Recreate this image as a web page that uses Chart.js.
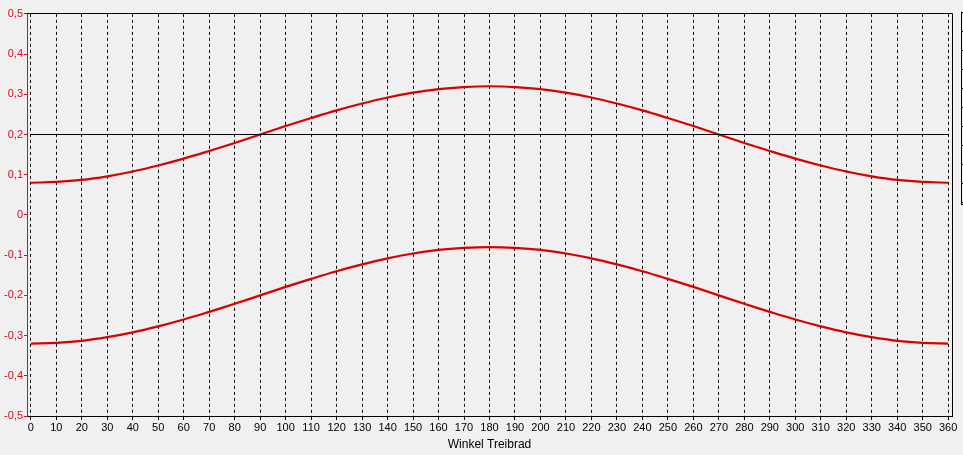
<!DOCTYPE html>
<html lang="de">
<head>
  <meta charset="UTF-8" />
  <title>Winkel Treibrad</title>
  <script src="https://cdn.jsdelivr.net/npm/chart.js"></script>
  <style>
    html, body { margin: 0; padding: 0; background: #f0f0f0; }
    #wrap { position: relative; width: 963px; height: 455px; overflow: hidden; }
    #legendStub {
      position: absolute; left: 961px; top: 12px; width: 6px; height: 191px;
      border-left: 1px solid #000; border-top: 1px solid #000; border-bottom: 1px solid #000;
      background: repeating-linear-gradient(to bottom, transparent 0 18px, #000 18px 19px);
      background-size: 2px 19px; background-repeat: repeat-y;
    }
  </style>
</head>
<body>
  <div id="wrap">
    <canvas id="chart" width="963" height="455"></canvas>
    <div id="legendStub"></div>
  </div>

  <script>
    // Winkel in Grad
    const angles = [0, 10, 20, 30, 40, 50, 60, 70, 80, 90, 100, 110, 120, 130, 140, 150, 160, 170, 180,
                    190, 200, 210, 220, 230, 240, 250, 260, 270, 280, 290, 300, 310, 320, 330, 340, 350, 360];

    const upperCurve = [0.080, 0.082, 0.087, 0.096, 0.108, 0.123, 0.140, 0.159, 0.179, 0.200,
                        0.221, 0.241, 0.260, 0.277, 0.292, 0.304, 0.313, 0.318, 0.320,
                        0.318, 0.313, 0.304, 0.292, 0.277, 0.260, 0.241, 0.221, 0.200,
                        0.179, 0.159, 0.140, 0.123, 0.108, 0.096, 0.087, 0.082, 0.080];

    const lowerCurve = [-0.320, -0.318, -0.313, -0.304, -0.292, -0.277, -0.260, -0.241, -0.221, -0.200,
                        -0.179, -0.159, -0.140, -0.123, -0.108, -0.096, -0.087, -0.082, -0.080,
                        -0.082, -0.087, -0.096, -0.108, -0.123, -0.140, -0.159, -0.179, -0.200,
                        -0.221, -0.241, -0.260, -0.277, -0.292, -0.304, -0.313, -0.318, -0.320];

    const refLineX = [0, 360];
    const refLineY = [0.2, 0.2];

    const xTicks = [0, 10, 20, 30, 40, 50, 60, 70, 80, 90, 100, 110, 120, 130, 140, 150, 160, 170, 180,
                    190, 200, 210, 220, 230, 240, 250, 260, 270, 280, 290, 300, 310, 320, 330, 340, 350, 360];
    const yTicks = [-0.5, -0.4, -0.3, -0.2, -0.1, 0, 0.1, 0.2, 0.3, 0.4, 0.5];

    const RED = "#dc0a1e";
    const CURVE = "#d80000";
    const FONT = "'Liberation Sans', Arial, sans-serif";

    const toPoints = (xs, ys) => xs.map((x, i) => ({ x: x, y: ys[i] }));

    // Rahmen oben und rechts
    const frame = {
      id: "frame",
      afterDraw(chart) {
        const { ctx, chartArea: a } = chart;
        const top = Math.floor(a.top) + 0.5;
        ctx.save();
        ctx.strokeStyle = "#000";
        ctx.lineWidth = 1;
        ctx.beginPath();
        ctx.moveTo(a.left, top);
        ctx.lineTo(a.right + 0.5, top);
        ctx.lineTo(a.right + 0.5, a.bottom);
        ctx.stroke();
        ctx.restore();
      }
    };

    new Chart(document.getElementById("chart"), {
      type: "line",
      data: {
        datasets: [
          {
            data: toPoints(refLineX, refLineY),
            borderColor: "#000",
            borderWidth: 1,
            pointRadius: 0
          },
          {
            data: toPoints(angles, upperCurve),
            borderColor: CURVE,
            borderWidth: 2.2,
            pointRadius: 0,
            tension: 0.4
          },
          {
            data: toPoints(angles, lowerCurve),
            borderColor: CURVE,
            borderWidth: 2.2,
            pointRadius: 0,
            tension: 0.4
          }
        ]
      },
      options: {
        responsive: false,
        animation: false,
        devicePixelRatio: 1,
        layout: { padding: { top: 13.86, right: 11, left: 0, bottom: 0 } },
        plugins: { legend: { display: false }, tooltip: { enabled: false } },
        scales: {
          x: {
            type: "linear",
            min: -1.5,
            max: 361.5,
            afterBuildTicks: s => { s.ticks = xTicks.map(v => ({ value: v })); },
            afterFit: s => { s.height = 39; },
            ticks: {
              autoSkip: false,
              maxRotation: 0,
              padding: 1,
              color: "#000",
              font: { family: FONT, size: 11 }
            },
            grid: {
              color: "#000",
              lineWidth: 1,
              tickLength: 4,
              tickColor: "#000"
            },
            border: { color: "#000", width: 1, dash: [3, 3] },
            title: {
              display: true,
              text: "Winkel Treibrad",
              color: "#000",
              font: { family: FONT, size: 12 },
              padding: { top: 0, bottom: 3 }
            }
          },
          y: {
            min: -0.5,
            max: 0.5,
            afterBuildTicks: s => { s.ticks = yTicks.map(v => ({ value: v })); },
            afterFit: s => { s.width = 27; },
            ticks: {
              padding: 1,
              color: RED,
              font: { family: FONT, size: 11 },
              callback: v => String(Math.round(v * 10) / 10).replace(".", ",")
            },
            grid: {
              drawOnChartArea: false,
              color: RED,
              tickLength: 3
            },
            border: { color: RED, width: 1 }
          }
        }
      },
      plugins: [frame]
    });
  </script>
</body>
</html>
